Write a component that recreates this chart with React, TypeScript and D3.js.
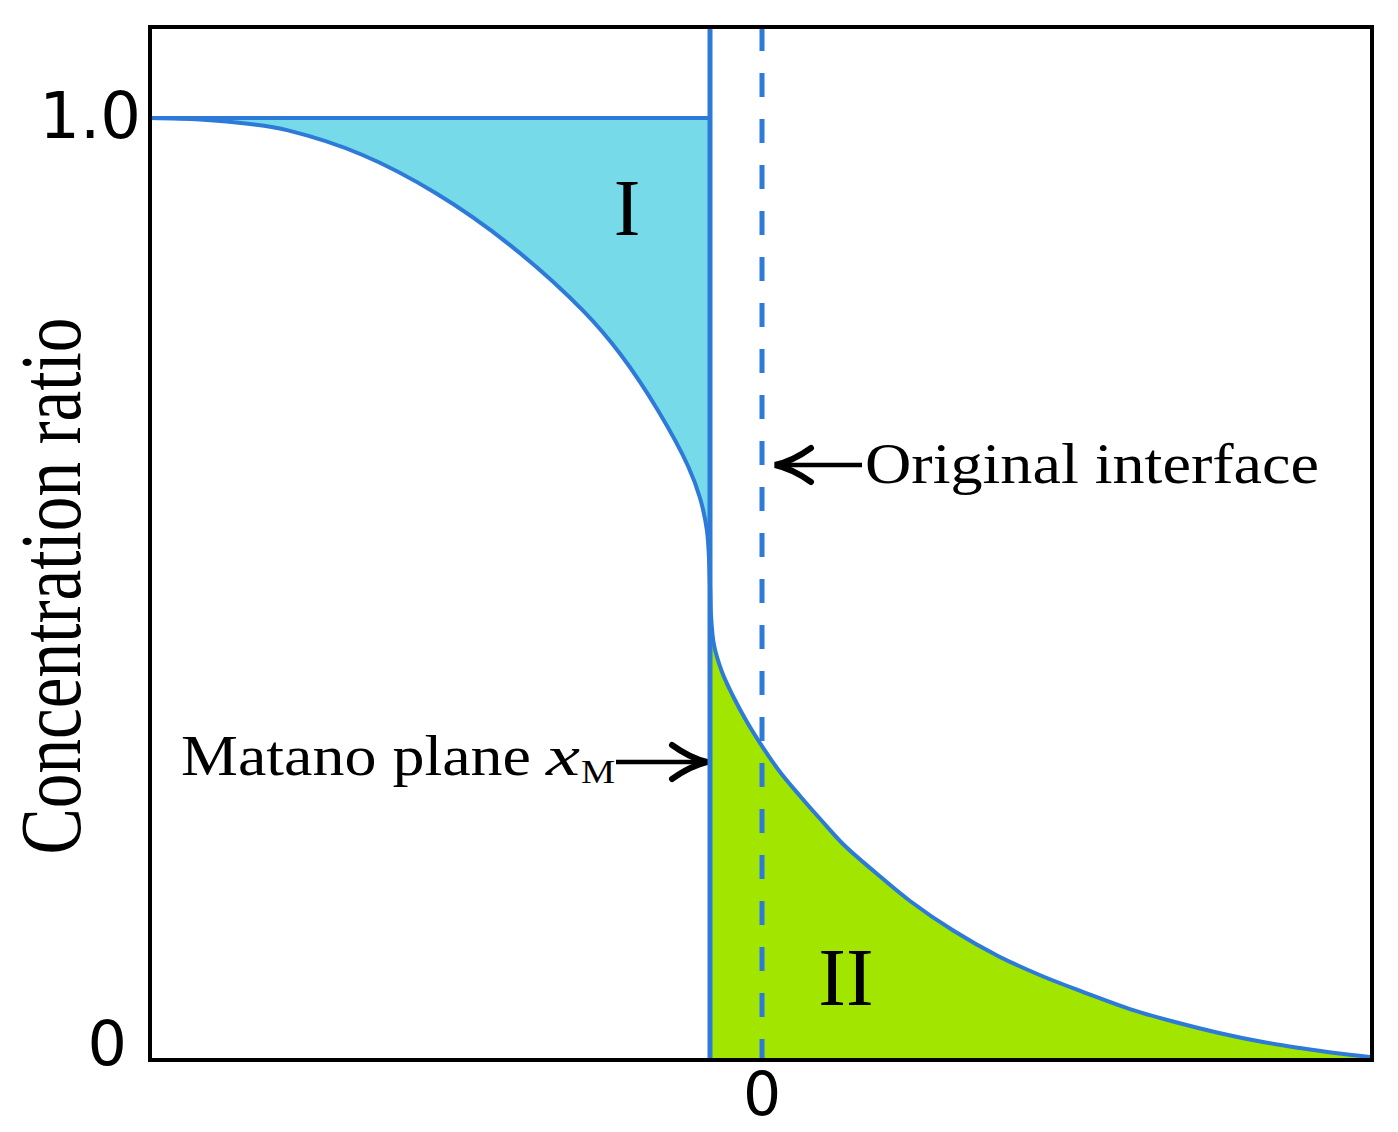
import React from "react";
import * as d3 from "d3";

// Concentration profile (x: distance, original interface at 0; y: concentration ratio)
const profileX = [-6.12, -5.62, -5.12, -4.74, -4.0, -3.26, -2.52, -1.78, -1.41, -1.04, -0.74, -0.62, -0.55, -0.52, -0.51, -0.48, -0.4, -0.28, -0.15, 0.0, 0.18, 0.38, 0.6, 0.82, 1.14, 1.48, 1.92, 2.36, 2.8, 3.24, 3.68, 4.13, 4.57, 5.01, 5.38, 5.73, 6.08];
const profileY = [1.0, 0.9984, 0.9936, 0.9868, 0.961, 0.9201, 0.8651, 0.7944, 0.7484, 0.6895, 0.6306, 0.5966, 0.5616, 0.5042, 0.4724, 0.4406, 0.4119, 0.3843, 0.3588, 0.3333, 0.3057, 0.2803, 0.2537, 0.2282, 0.1985, 0.1688, 0.1369, 0.1104, 0.0892, 0.0711, 0.0541, 0.0403, 0.0287, 0.0191, 0.0127, 0.0074, 0.0032];
const matanoX = -0.52;
const interfaceX = 0;
const yTicks = [0, 1.0];
const yTickLabels = ["0", "1.0"];
const xTicks = [0];
const xTickLabels = ["0"];
const xDomain = [-6.12, 6.1];
const yDomain = [0, 1.0966];

const W = 1398;
const H = 1132;
const BLUE = "#2D7AD8";
const CYAN = "#76DAE8";
const GREEN = "#A2E600";

export default function App() {
  const x = d3.scaleLinear().domain(xDomain).range([150, 1372]);
  const y = d3.scaleLinear().domain(yDomain).range([1060, 27]);
  const pts: [number, number][] = profileX.map((v, i) => [v, profileY[i]]);

  const curve = d3.curveCatmullRom.alpha(0.5);
  const line = d3.line<[number, number]>().x(d => x(d[0])).y(d => y(d[1])).curve(curve);
  const areaI = d3.area<[number, number]>().x(d => x(d[0])).y0(d => y(d[1])).y1(y(1)).curve(curve);
  const areaII = d3.area<[number, number]>().x(d => x(d[0])).y0(y(0)).y1(d => y(d[1])).curve(curve);

  const xm = x(matanoX);
  const xi = x(interfaceX);
  const serif = "'Liberation Serif', 'Times New Roman', serif";
  const sans = "'DejaVu Sans', Verdana, sans-serif";

  return (
    <svg width={W} height={H} style={{ position: "absolute", left: 0, top: 0, background: "#fff" }}>
      <defs>
        <clipPath id="clipI">
          <rect x={x(xDomain[0])} y={y(1)} width={xm - x(xDomain[0])} height={y(0) - y(1)} />
        </clipPath>
        <clipPath id="clipII">
          <rect x={xm} y={y(1)} width={x(xDomain[1]) - xm} height={y(0) - y(1)} />
        </clipPath>
      </defs>
      <rect width={W} height={H} fill="#fff" />
      <path d={areaI(pts) || ""} fill={CYAN} clipPath="url(#clipI)" />
      <path d={areaII(pts) || ""} fill={GREEN} clipPath="url(#clipII)" />
      <path d={line(pts) || ""} fill="none" stroke={BLUE} strokeWidth={4} />
      <line x1={x(xDomain[0])} x2={xm} y1={y(1)} y2={y(1)} stroke={BLUE} strokeWidth={4} />
      <line x1={xm} x2={xm} y1={y(yDomain[1])} y2={y(0)} stroke={BLUE} strokeWidth={5} />
      <line x1={xi} x2={xi} y1={y(yDomain[1])} y2={y(0)} stroke={BLUE} strokeWidth={5} strokeDasharray="24 22" />
      <rect x={x(xDomain[0])} y={y(yDomain[1])} width={x(xDomain[1]) - x(xDomain[0])} height={y(0) - y(yDomain[1])} fill="none" stroke="#000" strokeWidth={4} />

      {yTicks.map((t, i) => (
        <text key={"yt" + i} x={t === 0 ? 127 : 141} y={y(t) + (t === 0 ? 5 : 20)} textAnchor="end" fontFamily={sans} fontSize={t === 0 ? 62 : 64} fill="#000">{yTickLabels[i]}</text>
      ))}
      {xTicks.map((t, i) => (
        <text key={"xt" + i} x={x(t)} y={1115} textAnchor="middle" fontFamily={sans} fontSize={60} fill="#000">{xTickLabels[i]}</text>
      ))}

      <g transform="translate(80,586) scale(1.12,1) rotate(-90)">
        <text x={0} y={0} textAnchor="middle" fontFamily={serif} fontSize={78} textLength={537} lengthAdjust="spacingAndGlyphs" fill="#000">Concentration ratio</text>
      </g>

      <text x={627} y={235} textAnchor="middle" fontFamily={serif} fontSize={80} fill="#000">I</text>
      <text x={846} y={1005} textAnchor="middle" fontFamily={serif} fontSize={83} fill="#000">II</text>

      <text x={181} y={775} fontFamily={serif} fontSize={57} textLength={350} lengthAdjust="spacingAndGlyphs" fill="#000">Matano plane</text>
      <text x={546} y={775} fontFamily={serif} fontSize={58} fontStyle="italic" textLength={34} lengthAdjust="spacingAndGlyphs" fill="#000">x</text>
      <text x={581} y={783} fontFamily={serif} fontSize={34} textLength={34} lengthAdjust="spacingAndGlyphs" fill="#000">M</text>
      <line x1={616} x2={xm - 6} y1={762} y2={762} stroke="#000" strokeWidth={4.5} />
      <path d={`M ${xm - 38} 745 Q ${xm - 20} 758 ${xm - 3} 762 Q ${xm - 20} 766 ${xm - 38} 779`} fill="none" stroke="#000" strokeWidth={6} strokeLinecap="round" />

      <text x={865} y={483} fontFamily={serif} fontSize={56} textLength={454} lengthAdjust="spacingAndGlyphs" fill="#000">Original interface</text>
      <line x1={xi + 16} x2={862} y1={465} y2={465} stroke="#000" strokeWidth={4.5} />
      <path d={`M ${xi + 49} 448 Q ${xi + 31} 461 ${xi + 13} 465 Q ${xi + 31} 469 ${xi + 49} 482`} fill="none" stroke="#000" strokeWidth={6} strokeLinecap="round" />
    </svg>
  );
}
